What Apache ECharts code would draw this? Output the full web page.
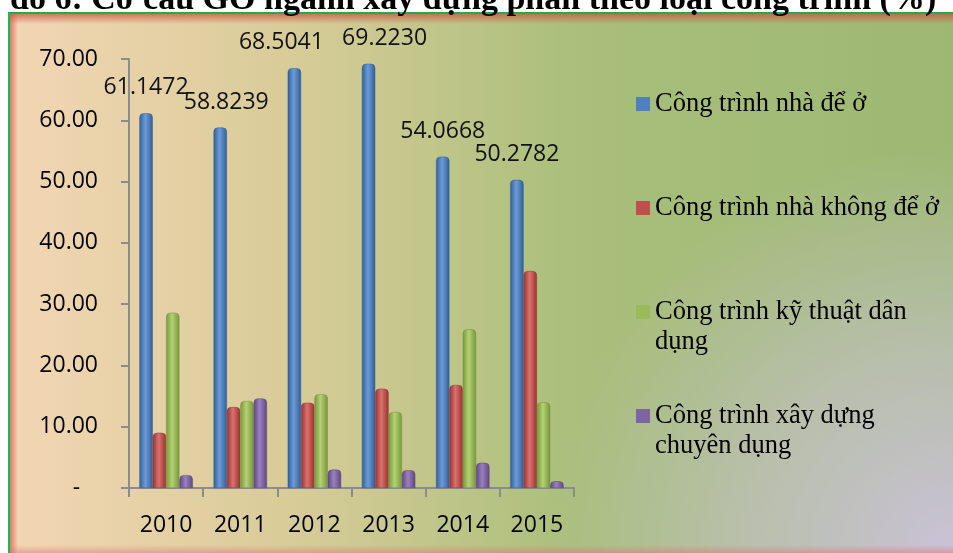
<!DOCTYPE html>
<html>
<head>
<meta charset="utf-8">
<script src="https://cdn.jsdelivr.net/npm/echarts@6/dist/echarts.min.js"></script>
<style>
html,body{margin:0;padding:0;background:#fff;}
#chart{width:953px;height:553px;}
</style>
</head>
<body>
<div id="chart"></div>
<script>
var years = ['2010', '2011', '2012', '2013', '2014', '2015'];
var seriesNames = ['Công trình nhà để ở', 'Công trình nhà không để ở', 'Công trình kỹ thuật dân dụng', 'Công trình xây dựng chuyên dụng'];
var nhaDeO = [61.1472, 58.8239, 68.5041, 69.2230, 54.0668, 50.2782];
var nhaKhongDeO = [9.0, 13.2, 13.9, 16.2, 16.8, 35.4];
var kyThuatDanDung = [28.6, 14.2, 15.3, 12.4, 25.9, 14.0];
var chuyenDung = [2.1, 14.6, 3.0, 2.9, 4.1, 1.1];
var yTicks = { min: 0, max: 70, interval: 10 };
var titleText = 'đồ 6: Cơ cấu GO ngành xây dựng phân theo loại công trình (%)';
// horizontal nudges of the value labels (as placed in the original)
var labelNudgeX = [0, 6, -13, 16, 0, 0];

var legendLines = {
  'Công trình nhà để ở': 'Công trình nhà để ở',
  'Công trình nhà không để ở': 'Công trình nhà không để ở',
  'Công trình kỹ thuật dân dụng': 'Công trình kỹ thuật dân\ndụng',
  'Công trình xây dựng chuyên dụng': 'Công trình xây dựng\nchuyên dụng'
};

var palette = [
  { base: '#4f81bd', dark: '#2f5f98', light: '#6e9bd6' },
  { base: '#c0504d', dark: '#9a3330', light: '#d9716d' },
  { base: '#9bbb59', dark: '#76963a', light: '#b4d274' },
  { base: '#8064a2', dark: '#5f4682', light: '#9a80bd' }
];
var values = [nhaDeO, nhaKhongDeO, kyThuatDanDung, chuyenDung];

function cyl(p) {
  return new echarts.graphic.LinearGradient(0, 0, 1, 0, [
    { offset: 0, color: p.dark },
    { offset: 0.45, color: p.light },
    { offset: 1, color: p.dark }
  ]);
}

var chart = echarts.init(document.getElementById('chart'), null, { renderer: 'canvas' });

var series = values.map(function (vals, i) {
  var s = {
    name: seriesNames[i],
    type: 'bar',
    data: vals.map(function (v, j) {
      var d = { value: v };
      if (i === 0) d.label = { offset: [labelNudgeX[j], 0] };
      return d;
    }),
    barGap: '0%',
    barCategoryGap: '28%',
    itemStyle: {
      color: cyl(palette[i]),
      borderColor: palette[i].dark,
      borderWidth: 0.5,
      borderRadius: [4, 4, 0, 0]
    },
    emphasis: { disabled: true }
  };
  if (i === 0) {
    s.label = {
      show: true,
      position: 'top',
      distance: 14,
      fontFamily: 'Open Sans',
      fontSize: 23,
      color: '#111',
      formatter: function (p) { return p.value.toFixed(4); }
    };
  }
  return s;
});

var option = {
  animation: false,
  color: palette.map(function (p) { return p.base; }),
  graphic: [
    {
      type: 'rect', z: -10, silent: true,
      shape: { x: 8, y: 12, width: 945, height: 541 },
      style: {
        fill: new echarts.graphic.LinearGradient(0, 0, 1, 0, [
          { offset: 0, color: '#f3d6b4' },
          { offset: 0.3, color: '#d8cc98' },
          { offset: 0.6, color: '#a9bf7b' },
          { offset: 1, color: '#9db873' }
        ])
      }
    },
    {
      type: 'rect', z: -9, silent: true,
      shape: { x: 8, y: 12, width: 945, height: 541 },
      style: {
        fill: new echarts.graphic.RadialGradient(1, 1, 0.75, [
          { offset: 0, color: 'rgba(202,194,216,1)' },
          { offset: 0.5, color: 'rgba(200,194,208,0.6)' },
          { offset: 1, color: 'rgba(200,194,208,0)' }
        ])
      }
    },
    {
      type: 'rect', z: -8, silent: true,
      shape: { x: 8, y: 12, width: 945, height: 12 },
      style: {
        fill: new echarts.graphic.LinearGradient(0, 0, 0, 1, [
          { offset: 0, color: 'rgba(200,80,60,0.85)' },
          { offset: 1, color: 'rgba(200,80,60,0)' }
        ])
      }
    },
    {
      type: 'rect', z: -8, silent: true,
      shape: { x: 8, y: 12, width: 10, height: 541 },
      style: {
        fill: new echarts.graphic.LinearGradient(0, 0, 1, 0, [
          { offset: 0, color: 'rgba(215,90,70,0.9)' },
          { offset: 1, color: 'rgba(215,90,70,0)' }
        ])
      }
    },
    {
      type: 'rect', z: -8, silent: true,
      shape: { x: 8, y: 545, width: 945, height: 8 },
      style: {
        fill: new echarts.graphic.LinearGradient(0, 0, 0, 1, [
          { offset: 0, color: 'rgba(215,120,120,0)' },
          { offset: 1, color: 'rgba(215,120,120,0.5)' }
        ])
      }
    },
    {
      type: 'line', z: -7, silent: true,
      shape: { x1: 8, y1: 13, x2: 953, y2: 13 },
      style: { stroke: '#1faa55', lineWidth: 2 }
    },
    {
      type: 'line', z: -7, silent: true,
      shape: { x1: 9, y1: 12, x2: 9, y2: 553 },
      style: { stroke: '#1fb35a', lineWidth: 2 }
    },
    {
      type: 'text', z: 10, silent: true,
      x: 10, y: -17,
      style: {
        text: titleText,
        font: 'bold 34px "Liberation Serif"',
        fill: '#000'
      }
    }
  ],
  legend: {
    orient: 'vertical',
    left: 636,
    top: 59,
    padding: 0,
    itemGap: 14,
    itemWidth: 14,
    itemHeight: 14,
    icon: 'rect',
    data: seriesNames.map(function (n, i) {
      return { name: n, itemStyle: { color: palette[i].base, borderWidth: 0 } };
    }),
    selectedMode: false,
    formatter: function (name) {
      var t = legendLines[name];
      var n = t.split('\n').length;
      return ' \n' + t + (n === 1 ? '\n ' : '');
    },
    textStyle: {
      fontFamily: 'Liberation Serif',
      fontSize: 26.5,
      lineHeight: 30,
      color: '#000'
    }
  },
  grid: { left: 129, right: 379, top: 59, bottom: 65, containLabel: false },
  xAxis: {
    type: 'category',
    data: years,
    axisLine: { show: true, lineStyle: { color: '#8c8c8c', width: 2 } },
    axisTick: { show: true, length: 9, lineStyle: { color: '#8c8c8c', width: 2 } },
    axisLabel: { fontFamily: 'Open Sans', fontSize: 23, color: '#000', margin: 26 }
  },
  yAxis: {
    type: 'value',
    min: yTicks.min,
    max: yTicks.max,
    interval: yTicks.interval,
    axisLine: { show: true, lineStyle: { color: '#8c8c8c', width: 2 } },
    axisTick: { show: true, length: 8, lineStyle: { color: '#8c8c8c', width: 2 } },
    splitLine: { show: false },
    axisLabel: {
      fontFamily: 'Open Sans', fontSize: 23, color: '#000', margin: 31,
      formatter: function (v) { return v === 0 ? '-   ' : v.toFixed(2); }
    }
  },
  series: series
};
chart.setOption(option);
</script>
</body>
</html>
